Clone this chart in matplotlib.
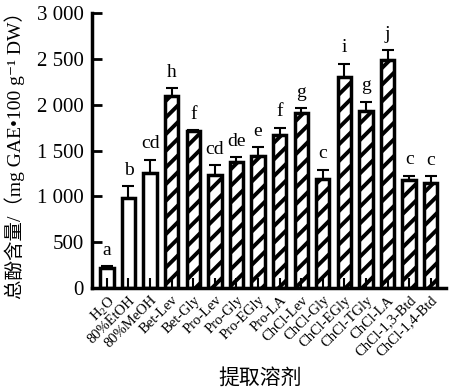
import matplotlib
matplotlib.use("Agg")
import matplotlib.pyplot as plt
import numpy as np

categories = ["H$_2$O", "80%EtOH", "80%MeOH", "Bet-Lev", "Bet-Gly", "Pro-Lev", "Pro-Gly",
              "Pro-EGly", "Pro-LA", "ChCl-Lev", "ChCl-Gly", "ChCl-EGly", "ChCl-TGly",
              "ChCl-LA", "ChCl-1,3-Btd", "ChCl-1,4-Btd"]
values = [220, 982, 1253, 2090, 1710, 1228, 1373, 1438, 1674, 1905, 1185, 2304, 1935, 2489, 1181, 1149]
errors = [15, 127, 149, 92, 15, 109, 54, 98, 76, 59, 108, 145, 98, 109, 44, 72]
letters = ["a", "b", "cd", "h", "f", "cd", "de", "e", "f", "g", "c", "i", "g", "j", "c", "c"]
hatched = [False, False, False] + [True] * 13
yticks = [0, 500, 1000, 1500, 2000, 2500, 3000]
ytick_labels = ["0", "500", "1 000", "1 500", "2 000", "2 500", "3 000"]

plt.rcParams['font.family'] = ['Liberation Serif', 'Noto Sans CJK SC', 'DejaVu Serif']
plt.rcParams['hatch.linewidth'] = 2.8
plt.rcParams['mathtext.fontset'] = 'custom'
plt.rcParams['mathtext.rm'] = 'Liberation Serif'

fig = plt.figure(figsize=(4.51, 3.90), dpi=100)
ax = fig.add_axes([0.204, 0.2615, 0.786, 0.705])

x = np.arange(len(categories))
for i in x:
    ax.bar(i, values[i], width=0.62, facecolor='white', edgecolor='black', linewidth=2.5,
           hatch='//' if hatched[i] else None, zorder=2)
ax.errorbar(x, values, yerr=[np.zeros(len(x)), errors], fmt='none', ecolor='black',
            elinewidth=1.5, capsize=4, capthick=1.5, zorder=3)
ax.vlines(x, 0, 110, colors='black', linewidth=1.5, zorder=3)

for i in x:
    ax.text(i, values[i] + errors[i] + 80, letters[i], ha='center', va='bottom', fontsize=14)

ax.set_xlim(-0.69, 15.73)
ax.set_ylim(0, 3000)
ax.set_yticks(yticks)
ax.set_yticklabels(ytick_labels, fontsize=15)
ax.set_xticks(x)
ax.set_xticklabels(categories, rotation=45, ha='right', rotation_mode='anchor', fontsize=10.5)
ax.tick_params(axis='y', direction='in', length=7, width=2, pad=6)
ax.tick_params(axis='x', length=0, pad=4)
for s in ['top', 'right']:
    ax.spines[s].set_visible(False)
for s in ['left', 'bottom']:
    ax.spines[s].set_linewidth(2.5)

ax.set_ylabel("总酚含量/（mg GAE•100 g\u207b\u00b9 DW）", fontsize=14)
ax.yaxis.set_label_coords(-0.19, 0.50)
ax.set_xlabel("提取溶剂", fontsize=15)
ax.xaxis.set_label_coords(0.475, -0.295)

fig.savefig("out.png", dpi=100)
